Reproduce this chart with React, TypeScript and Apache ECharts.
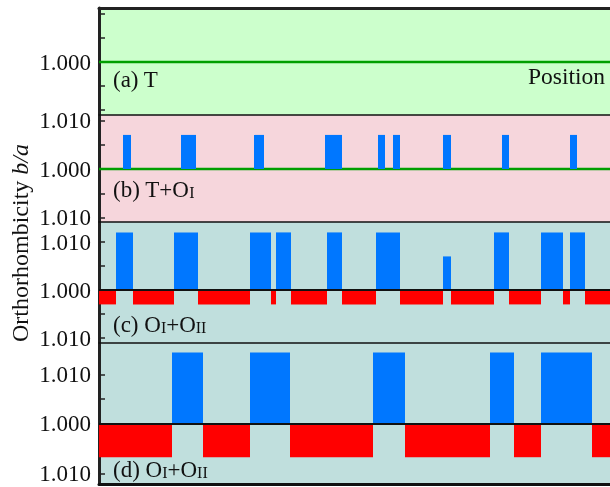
import React, { useEffect, useRef } from "react";
import * as echarts from "echarts";

// Position units (arbitrary, along the sample); each segment: [start, end]
const xMax = 511;

// (b) T+O_I : blue O_I segments
const bBlueSegs = [[24, 32], [82, 97], [155, 165], [226, 243], [279, 286], [294, 301], [344, 352], [403, 410], [471, 478]];
const bBlueValue = 0.007;

// (c) O_I+O_II
const cBlueSegs = [[17, 34], [75, 99], [151, 172], [177, 192], [228, 243], [277, 301], [344, 352], [395, 410], [442, 464], [471, 486]];
const cBlueValues = [0.012, 0.012, 0.012, 0.012, 0.012, 0.012, 0.007, 0.012, 0.012, 0.012];
const cRedSegs = [[0, 17], [34, 75], [99, 151], [172, 177], [192, 228], [243, 277], [301, 344], [352, 395], [410, 442], [464, 471], [486, 511]];
const cRedValue = -0.003;

// (d) O_I+O_II
const dBlueSegs = [[73, 104], [151, 191], [274, 306], [391, 415], [442, 493]];
const dBlueValue = 0.0144;
const dRedSegs = [[0, 73], [104, 151], [191, 274], [306, 391], [415, 442], [493, 511]];
const dRedValue = -0.0067;

// Tick labels
const labelValuesA = [0];
const labelValuesOthers = [-0.01, 0, 0.01];
const tickValues = [-0.01, -0.005, 0, 0.005, 0.01];

const FONT = "'Liberation Serif', 'Times New Roman', serif";
const BLUE = "#0077ff";
const RED = "#ff0000";
const GREEN = "#009e00";

const panels = [
  { top: 8, height: 107, min: -0.01104, max: 0.01125, bg: "#ccffcc", labels: labelValuesA },
  { top: 115, height: 107, min: -0.01088, max: 0.01109, bg: "#f6d6dc", labels: labelValuesOthers },
  { top: 222, height: 121, min: -0.01104, max: 0.01417, bg: "#c0dfdd", labels: labelValuesOthers },
  { top: 343, height: 141, min: -0.0121, max: 0.01633, bg: "#c0dfdd", labels: labelValuesOthers },
];

function segSeries(name: string, idx: number, segs: number[][], values: number[], color: string, z: number) {
  return {
    name,
    type: "custom",
    xAxisIndex: idx,
    yAxisIndex: idx,
    z,
    encode: { x: [0, 1], y: 2 },
    data: segs.map((s, i) => [s[0], s[1], values[i]]),
    renderItem: (params: any, api: any) => {
      const x0 = api.value(0);
      const x1 = api.value(1);
      const v = api.value(2);
      const p0 = api.coord([x0, v]);
      const p1 = api.coord([x1, 0]);
      return {
        type: "rect",
        shape: {
          x: p0[0],
          y: Math.min(p0[1], p1[1]),
          width: p1[0] - p0[0],
          height: Math.abs(p1[1] - p0[1]),
        },
        style: { fill: color },
      };
    },
  };
}

function baseLine(idx: number, color: string, width: number, z: number) {
  return {
    type: "line",
    xAxisIndex: idx,
    yAxisIndex: idx,
    z,
    symbol: "none",
    data: [[0, 0], [xMax, 0]],
    lineStyle: { color, width },
  };
}

export default function App() {
  const ref = useRef<HTMLDivElement>(null);
  useEffect(() => {
    if (!ref.current) return;
    const chart = echarts.init(ref.current, undefined, { renderer: "svg" });
    const fmt = (v: number) => (1 + Math.abs(v)).toFixed(3);
    const subRich = {
      s: { fontSize: 16, fontFamily: FONT, color: "#111", padding: [6, 0, 0, 0] },
    };
    const labelStyle = (text: string) => ({
      text,
      font: `23px ${FONT}`,
      fill: "#111",
      align: "left",
      verticalAlign: "middle",
      rich: subRich,
    });
    const option: any = {
      animation: false,
      grid: panels.map((p) => ({
        left: 99,
        top: p.top,
        height: p.height,
        width: xMax,
        show: true,
        backgroundColor: p.bg,
        borderWidth: 0,
        containLabel: false,
      })),
      xAxis: [
        ...panels.map((p, i) => ({
          type: "value",
          gridIndex: i,
          min: 0,
          max: xMax,
          position: "bottom",
          axisLine: { show: true, onZero: false, lineStyle: { color: "#111", width: i === 3 ? 3 : 1.5 } },
          axisTick: { show: false },
          axisLabel: { show: false },
          splitLine: { show: false },
        })),
        {
          type: "value",
          gridIndex: 0,
          min: 0,
          max: xMax,
          position: "top",
          axisLine: { show: true, onZero: false, lineStyle: { color: "#222", width: 3 } },
          axisTick: { show: false },
          axisLabel: { show: false },
          splitLine: { show: false },
        },
      ],
      yAxis: panels.map((p, i) => ({
        type: "value",
        gridIndex: i,
        min: p.min,
        max: p.max,
        axisLine: { show: true, onZero: false, lineStyle: { color: "#222", width: 3 } },
        axisTick: {
          show: true,
          inside: true,
          length: 6,
          customValues: tickValues,
          lineStyle: { color: "#222", width: 1.5 },
        },
        axisLabel: {
          show: true,
          customValues: p.labels,
          formatter: fmt,
          fontFamily: FONT,
          fontSize: 23,
          color: "#111",
          margin: 8,
        },
        splitLine: { show: false },
      })),
      series: [
        baseLine(0, GREEN, 2.6, 1),
        baseLine(1, GREEN, 2.6, 1),
        segSeries("bBlue", 1, bBlueSegs, bBlueSegs.map(() => bBlueValue), BLUE, 2),
        segSeries("cBlue", 2, cBlueSegs, cBlueValues, BLUE, 2),
        segSeries("cRed", 2, cRedSegs, cRedSegs.map(() => cRedValue), RED, 2),
        baseLine(2, "#111", 2, 3),
        segSeries("dBlue", 3, dBlueSegs, dBlueSegs.map(() => dBlueValue), BLUE, 2),
        segSeries("dRed", 3, dRedSegs, dRedSegs.map(() => dRedValue), RED, 2),
        baseLine(3, "#111", 2, 3),
      ],
      graphic: [
        {
          type: "text",
          x: 20,
          y: 243,
          rotation: Math.PI / 2,
          z: 10,
          style: {
            text: "Orthorhombicity {i|b/a}",
            font: `24px ${FONT}`,
            fill: "#111",
            align: "center",
            verticalAlign: "middle",
            rich: { i: { fontStyle: "italic", fontSize: 24, fontFamily: FONT, color: "#111" } },
          },
        },
        {
          type: "text",
          x: 605,
          y: 75.5,
          z: 10,
          style: { text: "Position", font: `23.5px ${FONT}`, fill: "#111", align: "right", verticalAlign: "middle" },
        },
        { type: "text", x: 113, y: 79.5, z: 10, style: labelStyle("(a) T") },
        { type: "text", x: 113, y: 189.5, z: 10, style: labelStyle("(b) T+O{s|I}") },
        { type: "text", x: 113, y: 324.5, z: 10, style: labelStyle("(c) O{s|I}+O{s|II}") },
        { type: "text", x: 113, y: 469.5, z: 10, style: labelStyle("(d) O{s|I}+O{s|II}") },
      ],
    };
    chart.setOption(option);
    return () => chart.dispose();
  }, []);
  return <div ref={ref} style={{ position: "fixed", left: 0, top: 0, width: 610, height: 487 }} />;
}
